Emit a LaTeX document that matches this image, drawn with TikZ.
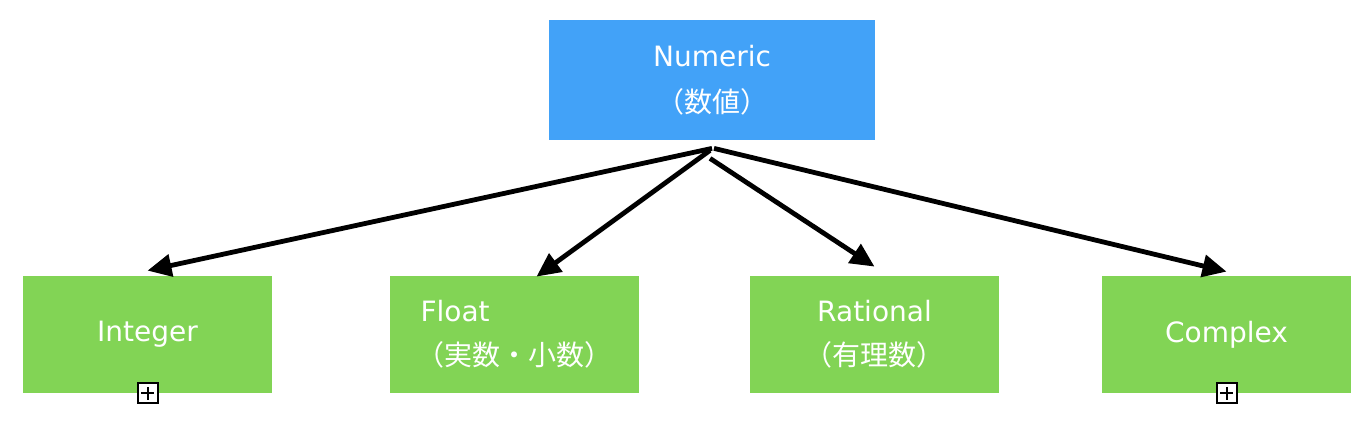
\documentclass[tikz,border=0pt]{standalone}
\usepackage{fontspec}
\setmainfont{DejaVu Sans}
\newfontfamily\jpfont{Noto Sans CJK JP}
\usetikzlibrary{arrows.meta}
\definecolor{numblue}{RGB}{66,162,248}
\definecolor{typegreen}{RGB}{130,212,85}
\begin{document}
\begin{tikzpicture}[x=0.5pt,y=-0.5pt]
\tikzset{
  basetype/.style={fill=numblue, text=white, minimum width=163pt, minimum height=60pt,
    align=center, inner sep=0pt, font=\fontsize{14pt}{23pt}\selectfont},
  subtype/.style={fill=typegreen, text=white, minimum width=124.5pt, minimum height=58.5pt,
    align=center, inner sep=0pt, font=\fontsize{14pt}{22pt}\selectfont},
  plusbox/.style={draw, fill=white, line width=1pt, minimum size=10pt, inner sep=0pt,
    path picture={\draw[line width=1pt]
      ([xshift=1.8pt]path picture bounding box.west) -- ([xshift=-1.8pt]path picture bounding box.east)
      ([yshift=-1.8pt]path picture bounding box.north) -- ([yshift=1.8pt]path picture bounding box.south);}},
  isa/.style={line width=2.4pt, -{Triangle[length=12pt,width=11pt]}}
}
\useasboundingbox (0,0) rectangle (1364,442);
% the parent type
\node[basetype] (num) at (712,80) {Numeric\\{\jpfont （数値）}};
% the sub types
\node[subtype] (int) at (147.5,334.5) {Integer};
\node[subtype, align=left] (flt) at (514.5,334.5) {\hspace*{2pt}Float\\{\jpfont （実数・小数）}};
\node[subtype] (rat) at (874.5,334.5) {Rational\\{\jpfont （有理数）}};
\node[subtype] (cpx) at (1226.5,334.5) {Complex};
% the collapsed markers
\node[plusbox] (intplus) at (int.south) {};
\node[plusbox] (cpxplus) at (cpx.south) {};
% the arrows
\draw[isa] ([yshift=-4pt]num.south) -- ([yshift=2.5pt]int.north);
\draw[isa] ([xshift=-1pt,yshift=-5pt]num.south) -- ([xshift=11pt,yshift=-0.5pt]flt.north);
\draw[isa] ([xshift=-1pt,yshift=-9pt]num.south) -- ([yshift=4.5pt]rat.north);
\draw[isa] ([xshift=1pt,yshift=-4pt]num.south) -- ([yshift=2pt]cpx.north);
\end{tikzpicture}
\end{document}
